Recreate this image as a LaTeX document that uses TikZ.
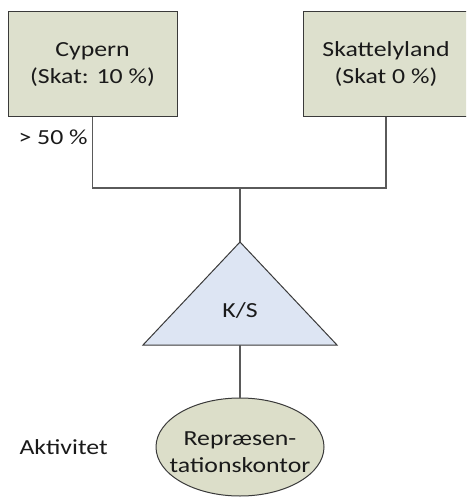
\documentclass[tikz,border=0pt]{standalone}
\usepackage{fontspec}
\setmainfont{Carlito}[FakeStretch=1.2]
\usetikzlibrary{shapes.geometric}
\definecolor{boxfill}{HTML}{DDE0CD}
\definecolor{ovalfill}{HTML}{DCDEC9}
\definecolor{trifill}{HTML}{DDE5F3}
\definecolor{edge}{HTML}{3A3A3A}
\definecolor{linkc}{HTML}{5A5A5A}
\definecolor{ink}{HTML}{1A1A1A}
\begin{document}
\begin{tikzpicture}[x=1pt,y=-1pt,
  lbl/.style={font=\fontsize{21.5}{27}\selectfont, text=ink},
  box/.style={draw=edge, fill=boxfill, line width=1pt, minimum width=169pt,
    minimum height=105pt, inner sep=0pt, align=center, lbl},
  link/.style={draw=linkc, line width=1.1pt}]
\useasboundingbox (0,0) rectangle (466,497);
\clip (0,0) rectangle (466,497);

% owners
\node[box] (cyp) at (92.5,64.5) {Cypern\\(Skat: 10 \%)};
\node[box, minimum width=166pt] (sky) at (386,64.5) {Skattelyland\\(Skat 0 \%)};
\node[lbl, anchor=base west] (pct) at (15,145) {> 50 \%};

% ownership bracket
\coordinate (jn) at (240,188);
\draw[link] (cyp.south) -- (cyp.south |- jn) -- (sky.south |- jn) -- (sky.south);

% partnership triangle
\coordinate (apex) at (240,242);
\coordinate (bl) at (143,345);
\coordinate (br) at (337,345);
\coordinate (base) at (240,345);
\draw[draw=edge, fill=trifill, line width=1pt] (apex) -- (br) -- (bl) -- cycle;
\node[lbl] (ks) at (240,310) {K/S};
\draw[link] (jn) -- (apex);

% activity
\node[draw=edge, fill=ovalfill, ellipse, line width=1pt, minimum width=168pt,
  minimum height=98pt, inner sep=0pt] (rep) at (240,447) {};
\node[lbl, align=center] (reptxt) at (240,452) {Repræsen-\\tationskontor};
\draw[link] (base) -- (rep.north);
\node[lbl, anchor=base west] (act) at (16,454) {Aktivitet};
\end{tikzpicture}
\end{document}
